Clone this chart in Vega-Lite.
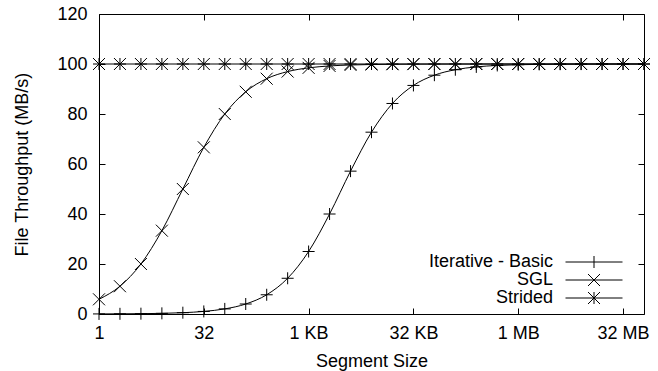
{
  "$schema": "https://vega.github.io/schema/vega-lite/v6.json",
  "width": 545,
  "height": 300,
  "autosize": {"type": "none"},
  "padding": {"left": 99, "top": 14, "right": 14, "bottom": 57},
  "background": "white",
  "config": {
    "view": {"stroke": "black", "strokeWidth": 1},
    "font": "Liberation Sans",
    "axis": {"labelFont": "Liberation Sans", "titleFont": "Liberation Sans", "labelColor": "black", "titleColor": "black", "tickColor": "black", "domain": false, "grid": false, "titleFontWeight": "normal", "labelFontSize": 18, "titleFontSize": 18, "tickSize": -6, "labelFlush": false, "labelOverlap": false, "labelBound": false}
  },
  "data": {"values": [
    {"size": 1, "series": "Iterative - Basic", "value": 0.03},
    {"size": 2, "series": "Iterative - Basic", "value": 0.07},
    {"size": 4, "series": "Iterative - Basic", "value": 0.13},
    {"size": 8, "series": "Iterative - Basic", "value": 0.26},
    {"size": 16, "series": "Iterative - Basic", "value": 0.52},
    {"size": 32, "series": "Iterative - Basic", "value": 1.03},
    {"size": 64, "series": "Iterative - Basic", "value": 2.04},
    {"size": 128, "series": "Iterative - Basic", "value": 4.0},
    {"size": 256, "series": "Iterative - Basic", "value": 7.69},
    {"size": 512, "series": "Iterative - Basic", "value": 14.29},
    {"size": 1024, "series": "Iterative - Basic", "value": 25.0},
    {"size": 2048, "series": "Iterative - Basic", "value": 40.0},
    {"size": 4096, "series": "Iterative - Basic", "value": 57.14},
    {"size": 8192, "series": "Iterative - Basic", "value": 72.73},
    {"size": 16384, "series": "Iterative - Basic", "value": 84.21},
    {"size": 32768, "series": "Iterative - Basic", "value": 91.43},
    {"size": 65536, "series": "Iterative - Basic", "value": 95.52},
    {"size": 131072, "series": "Iterative - Basic", "value": 97.71},
    {"size": 262144, "series": "Iterative - Basic", "value": 98.84},
    {"size": 524288, "series": "Iterative - Basic", "value": 99.42},
    {"size": 1048576, "series": "Iterative - Basic", "value": 99.71},
    {"size": 2097152, "series": "Iterative - Basic", "value": 99.85},
    {"size": 4194304, "series": "Iterative - Basic", "value": 99.93},
    {"size": 8388608, "series": "Iterative - Basic", "value": 99.96},
    {"size": 16777216, "series": "Iterative - Basic", "value": 99.98},
    {"size": 33554432, "series": "Iterative - Basic", "value": 99.99},
    {"size": 67108864, "series": "Iterative - Basic", "value": 100},
    {"size": 1, "series": "SGL", "value": 5.88},
    {"size": 2, "series": "SGL", "value": 11.11},
    {"size": 4, "series": "SGL", "value": 20.0},
    {"size": 8, "series": "SGL", "value": 33.33},
    {"size": 16, "series": "SGL", "value": 50.0},
    {"size": 32, "series": "SGL", "value": 66.67},
    {"size": 64, "series": "SGL", "value": 80.0},
    {"size": 128, "series": "SGL", "value": 88.89},
    {"size": 256, "series": "SGL", "value": 94.12},
    {"size": 512, "series": "SGL", "value": 96.97},
    {"size": 1024, "series": "SGL", "value": 98.46},
    {"size": 2048, "series": "SGL", "value": 99.22},
    {"size": 4096, "series": "SGL", "value": 99.61},
    {"size": 8192, "series": "SGL", "value": 99.8},
    {"size": 16384, "series": "SGL", "value": 99.9},
    {"size": 32768, "series": "SGL", "value": 99.95},
    {"size": 65536, "series": "SGL", "value": 99.98},
    {"size": 131072, "series": "SGL", "value": 99.99},
    {"size": 262144, "series": "SGL", "value": 99.99},
    {"size": 524288, "series": "SGL", "value": 100},
    {"size": 1048576, "series": "SGL", "value": 100},
    {"size": 2097152, "series": "SGL", "value": 100},
    {"size": 4194304, "series": "SGL", "value": 100},
    {"size": 8388608, "series": "SGL", "value": 100},
    {"size": 16777216, "series": "SGL", "value": 100},
    {"size": 33554432, "series": "SGL", "value": 100},
    {"size": 67108864, "series": "SGL", "value": 100},
    {"size": 1, "series": "Strided", "value": 100},
    {"size": 2, "series": "Strided", "value": 100},
    {"size": 4, "series": "Strided", "value": 100},
    {"size": 8, "series": "Strided", "value": 100},
    {"size": 16, "series": "Strided", "value": 100},
    {"size": 32, "series": "Strided", "value": 100},
    {"size": 64, "series": "Strided", "value": 100},
    {"size": 128, "series": "Strided", "value": 100},
    {"size": 256, "series": "Strided", "value": 100},
    {"size": 512, "series": "Strided", "value": 100},
    {"size": 1024, "series": "Strided", "value": 100},
    {"size": 2048, "series": "Strided", "value": 100},
    {"size": 4096, "series": "Strided", "value": 100},
    {"size": 8192, "series": "Strided", "value": 100},
    {"size": 16384, "series": "Strided", "value": 100},
    {"size": 32768, "series": "Strided", "value": 100},
    {"size": 65536, "series": "Strided", "value": 100},
    {"size": 131072, "series": "Strided", "value": 100},
    {"size": 262144, "series": "Strided", "value": 100},
    {"size": 524288, "series": "Strided", "value": 100},
    {"size": 1048576, "series": "Strided", "value": 100},
    {"size": 2097152, "series": "Strided", "value": 100},
    {"size": 4194304, "series": "Strided", "value": 100},
    {"size": 8388608, "series": "Strided", "value": 100},
    {"size": 16777216, "series": "Strided", "value": 100},
    {"size": 33554432, "series": "Strided", "value": 100},
    {"size": 67108864, "series": "Strided", "value": 100}
  ]},
  "resolve": {"scale": {"x": "independent", "y": "independent", "shape": "independent"}, "axis": {"x": "independent", "y": "independent"}},
  "layer": [
    {
      "mark": {"type": "line", "color": "black", "strokeWidth": 1, "interpolate": "monotone"},
      "encoding": {
        "x": {"field": "size", "type": "quantitative",
          "scale": {"type": "log", "base": 2, "domain": [1, 67108864], "nice": false, "zero": false},
          "axis": {"orient": "bottom", "title": "Segment Size", "values": [1, 32, 1024, 32768, 1048576, 33554432],
            "labelExpr": "datum.value == 1 ? '1' : datum.value == 32 ? '32' : datum.value == 1024 ? '1 KB' : datum.value == 32768 ? '32 KB' : datum.value == 1048576 ? '1 MB' : '32 MB'",
            "labelPadding": 16, "titlePadding": 10}},
        "y": {"field": "value", "type": "quantitative",
          "scale": {"domain": [0, 120], "nice": false, "zero": false},
          "axis": {"orient": "left", "title": "File Throughput (MB/s)", "values": [0, 20, 40, 60, 80, 100, 120], "labelPadding": 18, "titlePadding": 25}},
        "detail": {"field": "series"}
      }
    },
    {
      "mark": {"type": "point", "filled": false, "color": "black", "strokeWidth": 1, "size": 144, "opacity": 1},
      "encoding": {
        "x": {"field": "size", "type": "quantitative",
          "scale": {"type": "log", "base": 2, "domain": [1, 67108864], "nice": false, "zero": false},
          "axis": {"orient": "top", "title": null, "labels": false, "values": [1, 32, 1024, 32768, 1048576, 33554432]}},
        "y": {"field": "value", "type": "quantitative",
          "scale": {"domain": [0, 120], "nice": false, "zero": false},
          "axis": {"orient": "right", "title": null, "labels": false, "values": [0, 20, 40, 60, 80, 100, 120]}},
        "shape": {"field": "series", "type": "nominal",
          "scale": {"domain": ["Iterative - Basic", "SGL", "Strided"], "range": ["M-1,0L1,0M0,-1L0,1", "M-1,-1L1,1M-1,1L1,-1", "M-1,0L1,0M0,-1L0,1M-1,-1L1,1M-1,1L1,-1"]},
          "legend": null
        }
      }
    },
    {
      "mark": {"type": "point", "filled": false, "color": "black", "strokeWidth": 1, "size": 144, "opacity": 0},
      "encoding": {
        "x": {"field": "size", "type": "quantitative",
          "scale": {"type": "log", "base": 2, "domain": [1, 67108864], "nice": false, "zero": false},
          "axis": null},
        "y": {"field": "value", "type": "quantitative",
          "scale": {"domain": [0, 120], "nice": false, "zero": false},
          "axis": null},
        "shape": {"field": "series", "type": "nominal",
          "scale": {"domain": ["Iterative - Basic", "SGL", "Strided"], "range": ["M-4.75,0L4.75,0M0,-1L0,1", "M-4.75,0L4.75,0M-1,-1L1,1M-1,1L1,-1", "M-4.75,0L4.75,0M0,-1L0,1M-1,-1L1,1M-1,1L1,-1"]},
          "legend": {"title": null, "orient": "none", "legendX": 486, "legendY": 239, "direction": "vertical",
            "labelAlign": "right", "labelOffset": -50, "labelFontSize": 18, "labelFont": "Liberation Sans", "labelColor": "black",
            "symbolSize": 144, "rowPadding": 0, "padding": 0, "symbolStrokeWidth": 1, "symbolStrokeColor": "black", "symbolFillColor": "transparent", "symbolOpacity": 1}
        }
      }
    }
  ]
}
